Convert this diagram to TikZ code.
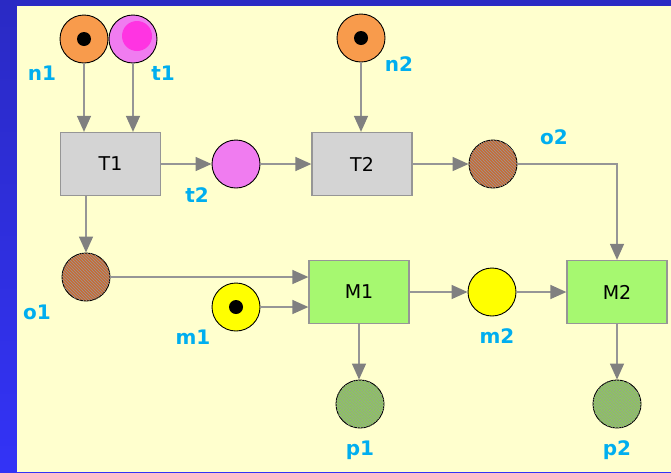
\documentclass[tikz,border=0pt]{standalone}
\usepackage{fontspec}
\setmainfont{DejaVu Sans}
\usetikzlibrary{arrows.meta,patterns}

\definecolor{bgyellow}{RGB}{255,255,206}
\definecolor{bluetop}{RGB}{42,42,196}
\definecolor{bluebot}{RGB}{51,51,246}
\definecolor{pnorange}{RGB}{248,155,76}
\definecolor{pnpink}{RGB}{240,124,240}
\definecolor{pnmagenta}{RGB}{255,52,226}
\definecolor{pnbrown}{RGB}{200,107,51}
\definecolor{pngreen}{RGB}{140,203,90}
\definecolor{pnyellow}{RGB}{255,255,0}
\definecolor{boxgray}{RGB}{212,212,212}
\definecolor{boxgreen}{RGB}{166,248,112}
\definecolor{edgegray}{RGB}{150,150,150}
\definecolor{tipgray}{RGB}{128,128,128}
\definecolor{lblcyan}{RGB}{0,174,239}

\tikzset{
  place/.style={circle, draw=black, line width=0.9pt, minimum size=48pt, inner sep=0pt},
  textured/.style={postaction={pattern=north west lines, pattern color=black!40}},
  trans/.style={rectangle, draw=edgegray, line width=1.3pt, minimum width=100pt,
    minimum height=63pt, font=\fontsize{19}{22}\selectfont},
  token/.style={circle, fill=black, minimum size=14pt, inner sep=0pt},
  plabel/.style={text=lblcyan, font=\fontsize{20}{24}\selectfont\bfseries, inner sep=0pt},
  arc/.style={draw=edgegray, line width=1.4pt,
    -{Triangle[length=16pt,width=14pt,color=tipgray]}}
}

\begin{document}
\begin{tikzpicture}[x=1pt,y=-1pt]
  %\draw[help lines] (0,0) grid (671,472);
  \shade[top color=bluetop, bottom color=bluebot] (0,0) rectangle (671,472);
  \fill[bgyellow] (17,6) rectangle (671,472);
  \useasboundingbox (0,0) rectangle (671,472);

  % places
  \node[place, fill=pnorange] (n1) at (84,39) {};
  \node[place, fill=pnpink] (t1) at (133,39) {};
  \node[circle, fill=pnmagenta, minimum size=30pt, inner sep=0pt] (t1in) at (137,36) {};
  \node[place, fill=pnorange] (n2) at (361,38) {};
  \node[place, fill=pnpink] (t2) at (236,164) {};
  \node[place, fill=pnbrown, textured] (o2) at (493,164) {};
  \node[place, fill=pnbrown, textured] (o1) at (86,277) {};
  \node[place, fill=pnyellow] (m1) at (236,307) {};
  \node[place, fill=pnyellow] (m2) at (492,292) {};
  \node[place, fill=pngreen, textured] (p1) at (360,404) {};
  \node[place, fill=pngreen, textured] (p2) at (617,404) {};

  % tokens
  \node[token] (k1) at (n1) {};
  \node[token] (k2) at (n2) {};
  \node[token] (k3) at (m1) {};

  % transitions
  \node[trans, fill=boxgray] (T1) at (110.5,164) {T1};
  \node[trans, fill=boxgray] (T2) at (362,164) {T2};
  \node[trans, fill=boxgreen] (M1) at (359,292) {M1};
  \node[trans, fill=boxgreen] (M2) at (617,292) {M2};

  % labels
  \foreach \nm/\x/\y in {n1/42/73, t1/163/73, n2/399/64, t2/197/195, o2/554/137,
                         o1/37/312, m1/193/337, m2/497/336, p1/360/450, p2/617/450}
    \node[plabel] (lbl-\nm) at (\x,\y) {\nm};

  % arcs
  \draw[arc] (n1) -- (n1 |- T1.north);
  \draw[arc] (t1) -- (t1 |- T1.north);
  \draw[arc] (T1) -- (t2);
  \draw[arc] (t2) -- (T2);
  \draw[arc] (n2) -- (n2 |- T2.north);
  \draw[arc] (T2) -- (o2);
  \draw[arc] (o2) -| (M2);
  \draw[arc] (T1.south -| o1) -- (o1);
  \draw[arc] (o1) -- (o1 -| M1.west);
  \draw[arc] (m1) -- (m1 -| M1.west);
  \draw[arc] (M1) -- (m2);
  \draw[arc] (m2) -- (M2);
  \draw[arc] (M1) -- (M1 |- p1.north);
  \draw[arc] (M2) -- (p2);
\end{tikzpicture}
\end{document}
